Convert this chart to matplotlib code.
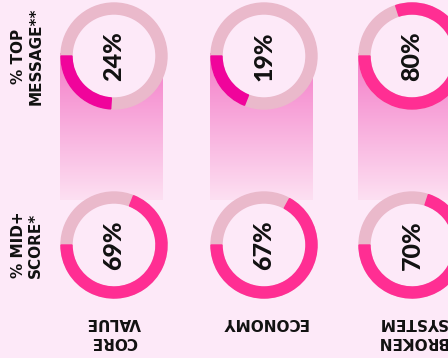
import numpy as np
import matplotlib.pyplot as plt
from matplotlib.patches import Wedge, Circle
from matplotlib.colors import to_rgb

# survey results per message
categories = ["CORE\nVALUE", "ECONOMY", "BROKEN\nSYSTEM"]
row_labels = ["% TOP\nMESSAGE**", "% MID+\nSCORE*"]
top_message = [24, 19, 80]
mid_score = [69, 67, 70]

bg = "#fde9f8"
track = "#eab9cb"
hot = "#ff2e93"
magenta = "#f0049b"
ink = "#111111"

fig = plt.figure(figsize=(4.48, 3.58), dpi=100, facecolor=bg)
ax = fig.add_axes([0, 0, 1, 1])
ax.set_facecolor(bg)

col_x = [114, 264, 412]
row_y = [56, 245]
r_out, ring = 53, 11


def gradient_bar(x, y0, y1, width):
    # vertical fade from pink to background
    top = np.array(to_rgb("#f47cc8"))
    bot = np.array(to_rgb("#fde0f2"))
    t = np.linspace(0, 1, 200)[:, None]
    img = (top * (1 - t) + bot * t)[:, None, :]
    ax.imshow(img, extent=(x - width / 2, x + width / 2, y1, y0),
              origin="upper", aspect="auto", zorder=1, interpolation="bilinear")


def donut(x, y, pct, color):
    ax.add_patch(Circle((x, y), r_out - ring, color=bg, zorder=3))
    ax.add_patch(Wedge((x, y), r_out, 0, 360, width=ring, color=track, zorder=4))
    ax.add_patch(Wedge((x, y), r_out, 180 - 3.6 * pct, 180, width=ring,
                       color=color, zorder=5))
    ax.text(x, y, f"{pct}%", rotation=90, ha="center", va="center",
            fontsize=18, fontweight="black", family="Lato", color=ink, zorder=6)


for x, v in zip(col_x, top_message):
    gradient_bar(x - 3, 53, 200, 103)
    donut(x, row_y[0], v, magenta if v < 50 else hot)

for x, v in zip(col_x, mid_score):
    donut(x, row_y[1], v, hot)

for y, lab in zip(row_y, row_labels):
    ax.text(27, y, lab, rotation=90, ha="center", va="center",
            multialignment="center", fontsize=11, fontweight="bold", color=ink)

for x, cat in zip(col_x, categories):
    ax.text(x, 315, cat, rotation=180, ha="center", va="top",
            multialignment="center", linespacing=1.35,
            fontsize=11, fontweight="bold", color=ink)

ax.set_xlim(0, 448)
ax.set_ylim(358, 0)
ax.axis("off")

fig.savefig("out.png", dpi=100, facecolor=bg)
